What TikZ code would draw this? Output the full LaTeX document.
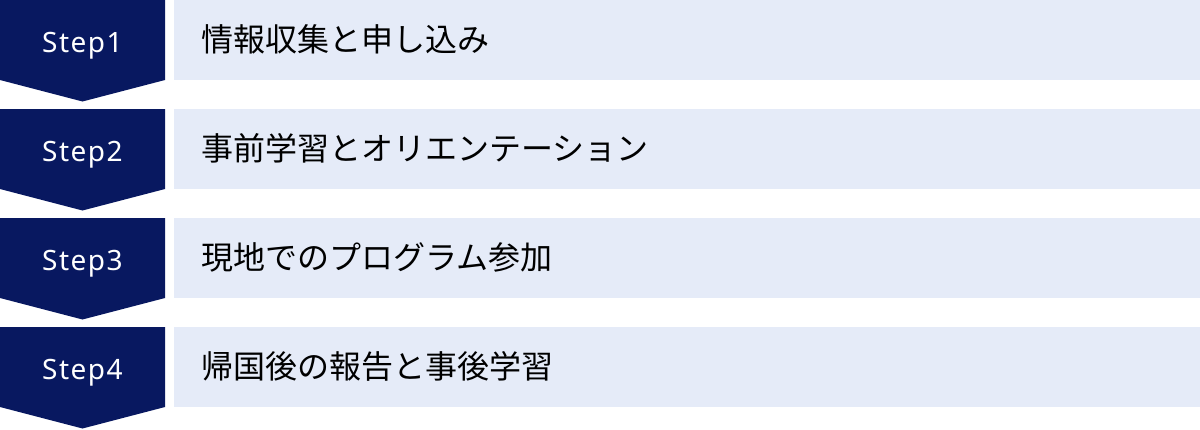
\documentclass[tikz,border=0pt]{standalone}
\usepackage{fontspec}
\setmainfont{Noto Sans}
\newfontfamily\jpfont{Noto Sans CJK JP}
\definecolor{navy}{RGB}{8,24,96}
\definecolor{lightbar}{RGB}{229,235,248}
\begin{document}
\begin{tikzpicture}[x=1pt,y=-1pt,
  stepshape/.style={fill=navy,draw=none},
  barshape/.style={fill=lightbar,draw=none},
  steplabel/.style={text=white,font=\fontsize{28}{32}\selectfont,inner sep=0pt,anchor=base},
  barlabel/.style={text=black,font=\jpfont\fontsize{32}{36}\selectfont,inner sep=0pt,anchor=base west}]
\useasboundingbox (0,0) rectangle (1200,429);
\foreach \i/\txt [count=\k from 0] in {1/情報収集と申し込み,2/事前学習とオリエンテーション,3/現地でのプログラム参加,4/帰国後の報告と事後学習}{
  \pgfmathsetmacro{\top}{\k*109}
  \fill[stepshape] (0,\top) -- (165,\top) -- (165,\top+80) -- (82.5,\top+101.5) -- (0,\top+80) -- cycle;
  \fill[barshape] (174,\top) rectangle (1200,\top+80);
  \node[steplabel] (s\i) at (82.5,\top+52) {S\kern1.5pt t\kern1.5pt e\kern1.5pt p\kern1.5pt\i};
  \node[barlabel] (b\i) at (201,\top+51) {\txt};
}
\end{tikzpicture}
\end{document}
